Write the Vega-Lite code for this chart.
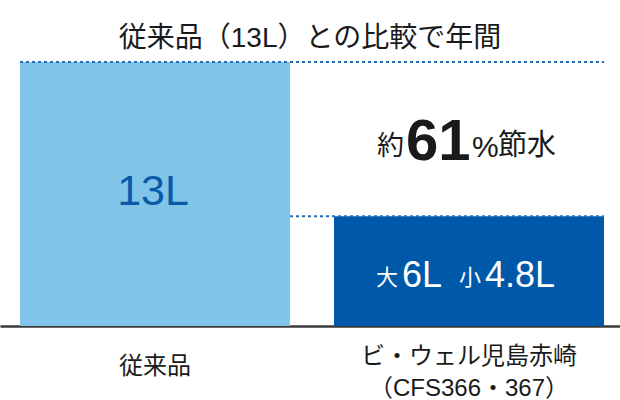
{
  "$schema": "https://vega.github.io/schema/vega-lite/v6.json",
  "description": "従来品とビ・ウェル児島赤崎の洗浄水量の比較",
  "width": 620,
  "height": 264,
  "autosize": {"type": "none"},
  "padding": {"top": 62, "left": 0, "right": 0, "bottom": 74},
  "background": "white",
  "config": {
    "view": {"stroke": null},
    "font": "Liberation Sans, Noto Sans CJK JP"
  },
  "title": {
    "text": "従来品（13L）との比較で年間",
    "fontSize": 28,
    "fontWeight": "normal",
    "color": "#1a1a1a",
    "anchor": "middle",
    "baseline": "bottom",
    "offset": -20
  },
  "data": {
    "values": [
      {"product": "従来品", "liters": 13},
      {"product": "ビ・ウェル児島赤崎\n（CFS366・367）", "liters": 5.4}
    ]
  },
  "encoding": {
    "x": {
      "field": "product",
      "type": "nominal",
      "sort": null,
      "scale": {"paddingInner": 0.1401, "paddingOuter": 0.0573, "align": 0.556},
      "axis": {
        "title": null,
        "ticks": false,
        "domainColor": "#3a3a3a",
        "domainWidth": 2.5,
        "labelAngle": 0,
        "labelFontSize": 24,
        "labelColor": "#1a1a1a",
        "labelLimit": 400,
        "labelBaseline": "top",
        "labelPadding": {"condition": {"test": "datum.value == '従来品'", "value": 28}, "value": 18},
        "labelLineHeight": 32,
        "labelExpr": "split(datum.label, '\\n')"
      }
    },
    "y": {
      "field": "liters",
      "type": "quantitative",
      "scale": {"domain": [0, 13], "nice": false},
      "axis": null
    }
  },
  "layer": [
    {
      "mark": {"type": "bar"},
      "encoding": {
        "color": {
          "field": "product",
          "type": "nominal",
          "sort": null,
          "scale": {"range": ["#80c5e7", "#0058a8"]},
          "legend": null
        }
      }
    },
    {
      "transform": [{"filter": {"field": "product", "equal": "従来品"}}],
      "mark": {"type": "rule", "color": "#1f6db6", "strokeWidth": 2, "strokeDash": [3, 3]},
      "encoding": {
        "x": {"datum": "従来品", "bandPosition": 0},
        "x2": {"datum": "ビ・ウェル児島赤崎\n（CFS366・367）", "bandPosition": 1}
      }
    },
    {
      "transform": [{"filter": "datum.product != '従来品'"}],
      "mark": {"type": "rule", "color": "#1f6db6", "strokeWidth": 2, "strokeDash": [3, 3]},
      "encoding": {
        "x": {"datum": "従来品", "bandPosition": 1},
        "x2": {"datum": "ビ・ウェル児島赤崎\n（CFS366・367）", "bandPosition": 1}
      }
    },
    {
      "transform": [{"filter": {"field": "product", "equal": "従来品"}}],
      "mark": {"type": "text", "fontSize": 43, "color": "#0a5aa8", "baseline": "alphabetic", "dx": -2, "dy": 143},
      "encoding": {"text": {"value": "13L"}}
    },
    {
      "transform": [{"filter": "datum.product != '従来品'"}],
      "mark": {"type": "text", "fontSize": 22, "color": "white", "align": "left", "baseline": "alphabetic", "dx": -93, "dy": 69},
      "encoding": {"text": {"value": "大"}}
    },
    {
      "transform": [{"filter": "datum.product != '従来品'"}],
      "mark": {"type": "text", "fontSize": 36, "color": "white", "align": "left", "baseline": "alphabetic", "dx": -67, "dy": 71},
      "encoding": {"text": {"value": "6L"}}
    },
    {
      "transform": [{"filter": "datum.product != '従来品'"}],
      "mark": {"type": "text", "fontSize": 22, "color": "white", "align": "left", "baseline": "alphabetic", "dx": -10, "dy": 69},
      "encoding": {"text": {"value": "小"}}
    },
    {
      "transform": [{"filter": "datum.product != '従来品'"}],
      "mark": {"type": "text", "fontSize": 36, "color": "white", "align": "left", "baseline": "alphabetic", "dx": 16, "dy": 71},
      "encoding": {"text": {"value": "4.8L"}}
    },
    {
      "transform": [{"filter": "datum.product != '従来品'"}],
      "mark": {"type": "text", "fontSize": 27, "color": "#1a1a1a", "align": "left", "baseline": "alphabetic", "dx": -92, "dy": -61},
      "encoding": {"text": {"value": "約"}}
    },
    {
      "transform": [{"filter": "datum.product != '従来品'"}],
      "mark": {"type": "text", "fontSize": 58, "fontWeight": "bold", "color": "#1a1a1a", "align": "left", "baseline": "alphabetic", "dx": -63, "dy": -56},
      "encoding": {"text": {"value": "61"}}
    },
    {
      "transform": [{"filter": "datum.product != '従来品'"}],
      "mark": {"type": "text", "fontSize": 30, "color": "#1a1a1a", "align": "left", "baseline": "alphabetic", "dx": 3, "dy": -59},
      "encoding": {"text": {"value": "%"}}
    },
    {
      "transform": [{"filter": "datum.product != '従来品'"}],
      "mark": {"type": "text", "fontSize": 29, "color": "#1a1a1a", "align": "left", "baseline": "alphabetic", "dx": 29, "dy": -61},
      "encoding": {"text": {"value": "節水"}}
    }
  ]
}
